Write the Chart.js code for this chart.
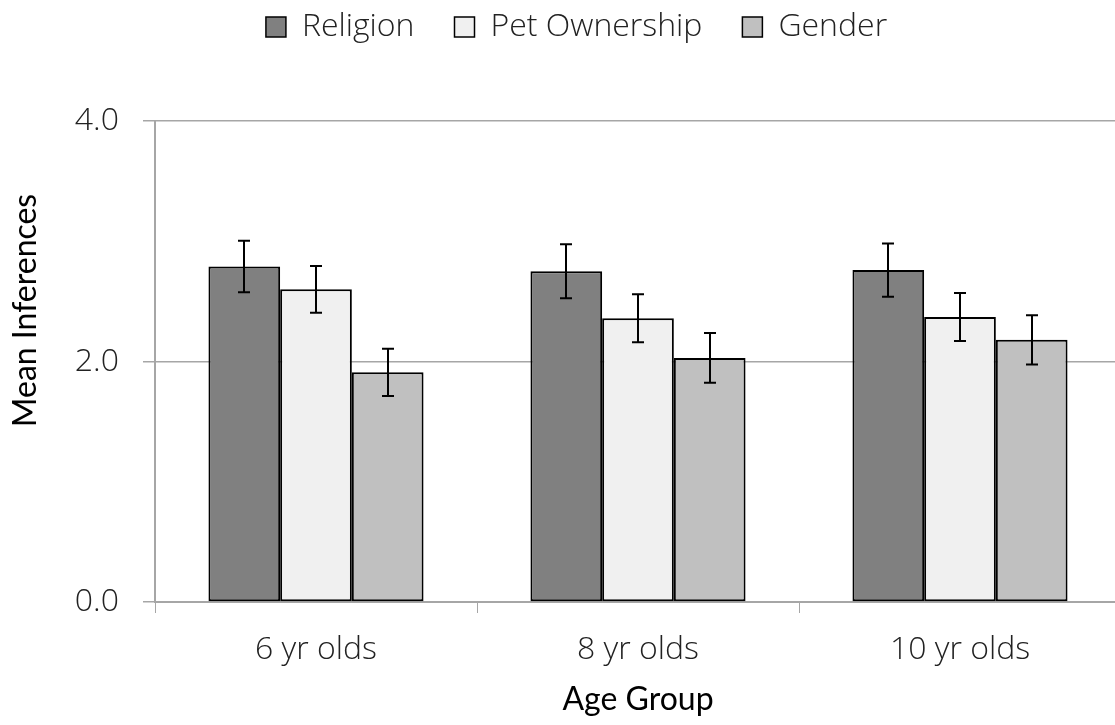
<!DOCTYPE html>
<html lang="en">
<head>
  <meta charset="UTF-8">
  <title>Mean Inferences by Age Group</title>
  <script src="https://cdn.jsdelivr.net/npm/chart.js@4.4.1/dist/chart.umd.min.js"></script>
</head>
<style>
* {
  margin: 0;
  padding: 0;
}
html, body {
  width: 1115px;
  height: 725px;
  overflow: hidden;
  background: #fff;
}
.wrap {
  width: 1125px;
  height: 725px;
}
</style>
<body>
<div class="wrap">
  <canvas id="chart" width="1125" height="725"></canvas>
</div>
<script>
const ageGroups = ["6 yr olds", "8 yr olds", "10 yr olds"];
const seriesNames = ["Religion", "Pet Ownership", "Gender"];
const religion = [2.79, 2.75, 2.76];
const petOwnership = [2.60, 2.36, 2.37];
const gender = [1.91, 2.03, 2.18];
const religionErr = [0.215, 0.225, 0.222];
const petOwnershipErr = [0.195, 0.20, 0.20];
const genderErr = [0.197, 0.207, 0.204];
const yTicks = [0, 2, 4];

const fills = ["#808080", "#f0f0f0", "#c0c0c0"];
const axisGray = "#a6a6a6";
const textColor = "#222";
const thinFont = "'Open Sans', sans-serif";
const titleFont = "Lato, 'Open Sans', sans-serif";

const values = [religion, petOwnership, gender];
const errors = [religionErr, petOwnershipErr, genderErr];

// error bars drawn on top of each bar
const errorBars = {
  id: "errorBars",
  afterDatasetsDraw(chart) {
    const ctx = chart.ctx;
    const y = chart.scales.y;
    ctx.save();
    ctx.strokeStyle = "#000";
    ctx.lineWidth = 2;
    chart.data.datasets.forEach((ds, i) => {
      const meta = chart.getDatasetMeta(i);
      meta.data.forEach((bar, j) => {
        const v = ds.data[j];
        const e = errors[i][j];
        const top = y.getPixelForValue(v + e);
        const bot = y.getPixelForValue(v - e);
        const x = Math.round(bar.x);
        ctx.beginPath();
        ctx.moveTo(x, top);
        ctx.lineTo(x, bot);
        ctx.moveTo(x - 6, top);
        ctx.lineTo(x + 6, top);
        ctx.moveTo(x - 6, bot);
        ctx.lineTo(x + 6, bot);
        ctx.stroke();
      });
    });
    ctx.restore();
  }
};

// more room under the legend, nudge it right, and lift the y title a bit
const layoutTweaks = {
  id: "layoutTweaks",
  beforeInit(chart) {
    const fit = chart.legend.fit;
    chart.legend.fit = function () {
      fit.call(this);
      this.height += 68;
    };
  },
  afterLayout(chart) {
    chart.legend.left += 16;
    chart.legend.right += 16;
    const y = chart.scales.y;
    if (!y._titlePatched) {
      const drawTitle = y.drawTitle;
      y.drawTitle = function () {
        this.ctx.save();
        this.ctx.translate(0, -51);
        drawTitle.call(this);
        this.ctx.restore();
      };
      y._titlePatched = true;
    }
  }
};

new Chart(document.getElementById("chart"), {
  type: "bar",
  plugins: [errorBars, layoutTweaks],
  data: {
    labels: ageGroups,
    datasets: seriesNames.map((name, i) => ({
      label: name,
      data: values[i],
      backgroundColor: fills[i],
      borderColor: "#000",
      borderWidth: 2,
      borderSkipped: false,
      barPercentage: 1,
      categoryPercentage: 0.668
    }))
  },
  options: {
    responsive: false,
    animation: false,
    devicePixelRatio: 1,
    layout: {
      padding: { top: -29, right: 4, left: 0, bottom: 0 }
    },
    plugins: {
      tooltip: { enabled: false },
      legend: {
        position: "top",
        labels: {
          boxWidth: 20,
          boxHeight: 20,
          padding: 40,
          color: textColor,
          font: { family: thinFont, size: 32, weight: 300 },
          generateLabels(chart) {
            return chart.data.datasets.map((ds, i) => ({
              text: ds.label,
              fillStyle: ds.backgroundColor,
              strokeStyle: "#000",
              lineWidth: 1.5,
              fontColor: textColor,
              datasetIndex: i
            }));
          }
        }
      }
    },
    scales: {
      x: {
        afterFit(s) { s.height = 123; },
        border: { color: axisGray, width: 2 },
        grid: {
          offset: true,
          drawOnChartArea: false,
          drawTicks: true,
          tickLength: 11,
          color: axisGray,
          lineWidth: 1
        },
        ticks: {
          padding: 18,
          color: textColor,
          font: { family: thinFont, size: 32, weight: 300 }
        },
        title: {
          display: true,
          text: "Age Group",
          color: "#000",
          padding: { top: 0, bottom: 6 },
          font: { family: titleFont, size: 32 }
        }
      },
      y: {
        min: 0,
        max: 4,
        afterFit(s) { s.width = 155; },
        afterBuildTicks(s) { s.ticks = yTicks.map(v => ({ value: v })); },
        border: { color: axisGray, width: 2 },
        grid: {
          color: axisGray,
          lineWidth: 1.5,
          tickLength: 12
        },
        ticks: {
          padding: 24,
          color: textColor,
          font: { family: thinFont, size: 32, weight: 300 },
          callback: v => v.toFixed(1)
        },
        title: {
          display: true,
          text: "Mean Inferences",
          color: "#000",
          padding: { top: 6, bottom: 0 },
          font: { family: titleFont, size: 32 }
        }
      }
    }
  }
});
</script>
</body>
</html>
